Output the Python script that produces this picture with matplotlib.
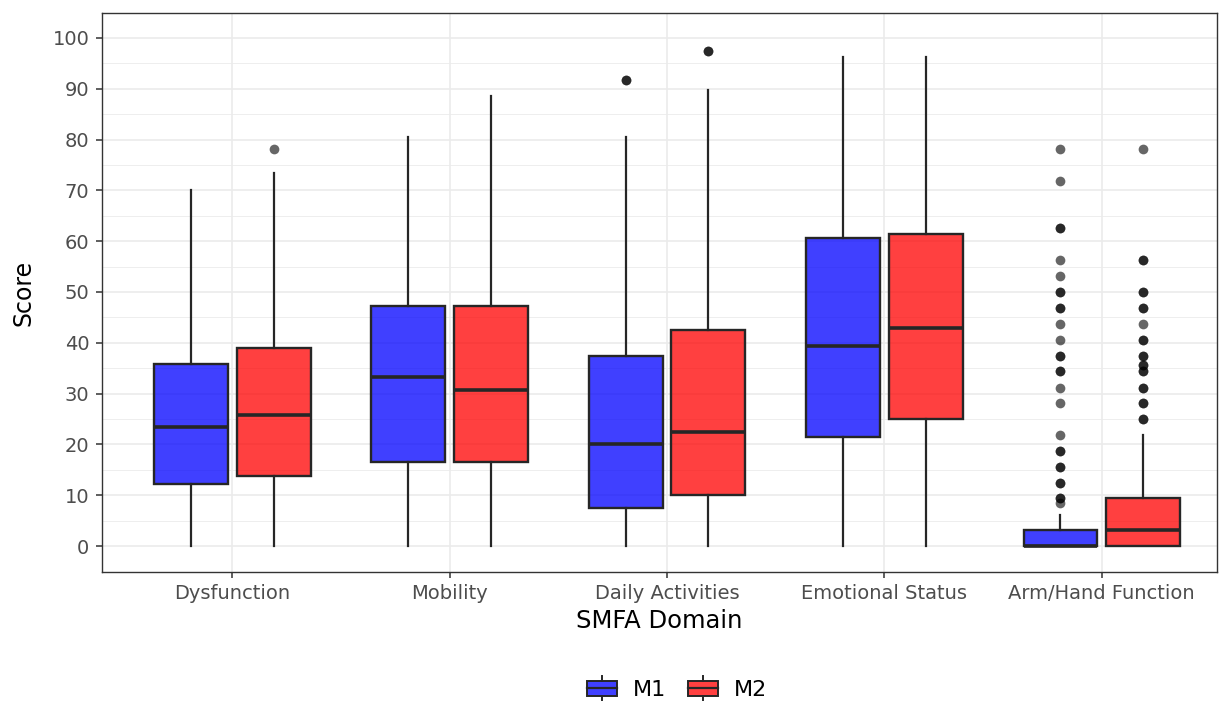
import numpy as np
import matplotlib.pyplot as plt
from matplotlib.legend_handler import HandlerBase
from matplotlib.patches import Rectangle
from matplotlib.lines import Line2D

plt.rcParams['font.family'] = ['DejaVu Sans']

domains = ["Dysfunction", "Mobility", "Daily Activities", "Emotional Status", "Arm/Hand Function"]
groups = ["M1", "M2"]

# box stats: whisker low, Q1, median, Q3, whisker high
m1_low = [0, 0, 0, 0, 0]
m1_q1 = [12.3, 16.5, 7.5, 21.5, 0]
m1_med = [23.5, 33.3, 20.1, 39.4, 0]
m1_q3 = [35.9, 47.2, 37.4, 60.6, 3.1]
m1_high = [70.0, 80.5, 80.5, 96.3, 6.1]

m2_low = [0, 0, 0, 0, 0]
m2_q1 = [13.8, 16.5, 10.0, 25.0, 0]
m2_med = [25.7, 30.7, 22.4, 42.9, 3.1]
m2_q3 = [38.9, 47.2, 42.5, 61.4, 9.4]
m2_high = [73.4, 88.6, 89.8, 96.3, 21.8]

# outliers (repeated values drawn twice where points look darker)
m1_out = [[], [], [91.7, 91.7], [],
          [78.1, 71.9, 62.5, 62.5, 56.3, 53.1, 50, 50, 46.8, 46.8, 43.7, 40.6,
           37.4, 37.4, 34.4, 34.4, 31.2, 28.1, 21.8, 18.7, 18.7, 15.6, 15.6,
           12.5, 12.5, 9.4, 9.4, 8.4]]
m2_out = [[78.1], [], [97.5, 97.5], [],
          [78.1, 56.3, 56.3, 50, 50, 46.8, 46.8, 43.7, 40.6, 40.6, 37.4, 37.4,
           35.6, 35.6, 34.4, 34.4, 31.2, 31.2, 28.1, 28.1, 25, 25]]

colors = ["#0000ff", "#ff0000"]
edge = "#262626"


def make_stats(low, q1, med, q3, high, out):
    stats = []
    for i in range(len(low)):
        stats.append(dict(whislo=low[i], q1=q1[i], med=med[i], q3=q3[i],
                          whishi=high[i], fliers=out[i]))
    return stats


fig = plt.figure(figsize=(12.2, 7.02), dpi=100)
ax = fig.add_axes([0.0836, 0.1852, 0.9139, 0.7963])

x = np.arange(1, len(domains) + 1)
offset = 0.19
width = 0.34
all_stats = [make_stats(m1_low, m1_q1, m1_med, m1_q3, m1_high, m1_out),
             make_stats(m2_low, m2_q1, m2_med, m2_q3, m2_high, m2_out)]

for k, stats in enumerate(all_stats):
    pos = x + (offset if k else -offset)
    ax.bxp(stats, positions=pos, widths=width, patch_artist=True, showcaps=False,
           boxprops=dict(facecolor=colors[k], alpha=0.75, edgecolor=edge, linewidth=1.6),
           whiskerprops=dict(color=edge, linewidth=1.6),
           medianprops=dict(color=edge, linewidth=2.6),
           flierprops=dict(marker='o', markerfacecolor='black', markeredgecolor='none',
                           markersize=7, alpha=0.6),
           zorder=3)
    # redraw box outline without alpha so edges stay dark
    for i, s in enumerate(stats):
        ax.add_patch(Rectangle((pos[i] - width / 2, s['q1']), width, s['q3'] - s['q1'],
                               fill=False, edgecolor=edge, linewidth=1.6, zorder=4))

ax.set_xlim(0.4, 5.53)
ax.set_ylim(-5.1, 104.9)
ax.set_yticks(np.arange(0, 101, 10))
ax.set_yticks(np.arange(5, 101, 10), minor=True)
ax.set_xticks(x)
ax.set_xticklabels(domains)

ax.grid(which='major', color='#ebebeb', linewidth=1.2, zorder=0)
ax.grid(which='minor', axis='y', color='#ebebeb', linewidth=0.6, zorder=0)
ax.set_axisbelow(True)
for sp in ax.spines.values():
    sp.set_color('#333333')
    sp.set_linewidth(1.0)
ax.tick_params(which='major', length=4, width=1.1, color='#333333',
               labelsize=14, labelcolor='#4d4d4d')
ax.tick_params(axis='y', pad=5)
ax.tick_params(axis='x', pad=5)
ax.tick_params(which='minor', length=0)

ax.set_xlabel("SMFA Domain", fontsize=17.5, labelpad=4)
ax.set_ylabel("Score", fontsize=17, labelpad=12)


class BoxHandler(HandlerBase):
    def create_artists(self, legend, orig_handle, xdescent, ydescent, width, height,
                       fontsize, trans):
        c = orig_handle.get_facecolor()
        w = width
        h = height * 0.95
        y0 = -ydescent + (height - h) / 2
        rect = Rectangle((0, y0), w, h, facecolor=c, edgecolor=edge, linewidth=1.4,
                         transform=trans)
        med = Line2D([0, w], [y0 + h / 2] * 2, color=edge, linewidth=1.6, transform=trans)
        up = Line2D([w / 2] * 2, [y0 + h, y0 + h + 3], color=edge, linewidth=1.4, transform=trans)
        dn = Line2D([w / 2] * 2, [y0 - 3, y0], color=edge, linewidth=1.4, transform=trans)
        return [rect, med, up, dn]


handles = [Rectangle((0, 0), 1, 1, facecolor=(0.25, 0.25, 1.0)),
           Rectangle((0, 0), 1, 1, facecolor=(1.0, 0.25, 0.25))]
fig.legend(handles, groups, loc='center', bbox_to_anchor=(0.555, 0.017), ncol=2,
           frameon=False, fontsize=16, handler_map={Rectangle: BoxHandler()},
           handlelength=1.35, handleheight=0.75, columnspacing=1.0, handletextpad=0.7)

fig.savefig("out.png", dpi=100)
